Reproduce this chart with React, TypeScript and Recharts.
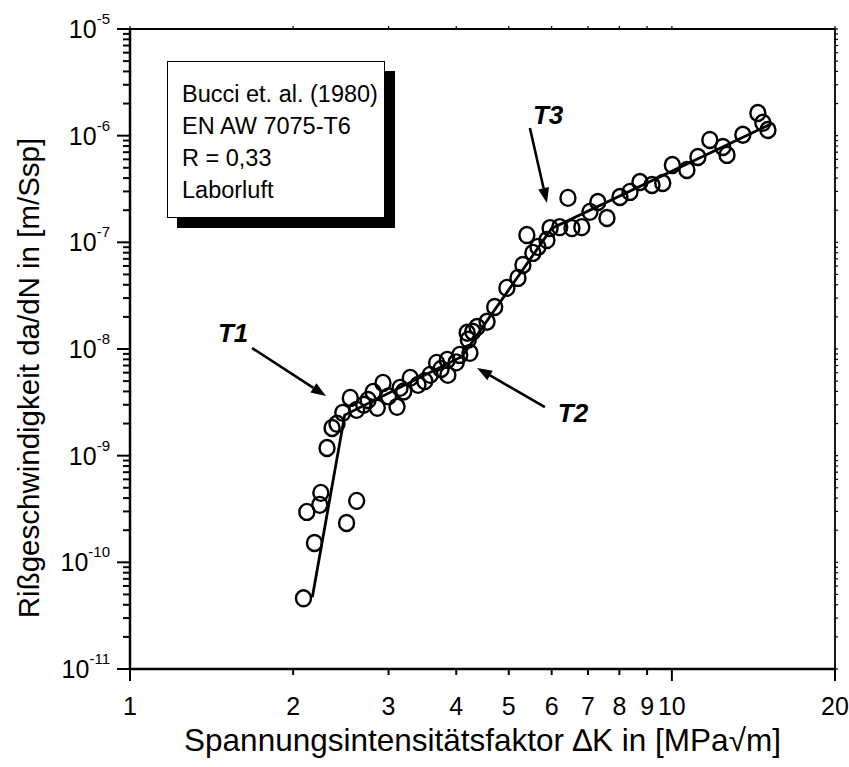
import React from 'react';
import { ScatterChart, Scatter, XAxis, YAxis, ReferenceLine, ReferenceDot } from 'recharts';

const FONT = '"Liberation Sans", Arial, Helvetica, sans-serif';

// measured points: ΔK [MPa√m] and da/dN [m/cycle]
const deltaK = [
  2.09, 2.19, 2.12, 2.24, 2.25, 2.62, 2.51, 2.31, 2.36, 2.41,
  2.47, 2.55, 2.62, 2.7, 2.75, 2.81, 2.93, 2.86, 3.0, 3.11,
  3.15, 3.2, 3.29, 3.4, 3.5, 3.58, 3.68, 3.75, 3.85, 3.86,
  4.0, 4.06, 4.24, 4.19, 4.21, 4.37, 4.56, 4.29, 4.71, 4.96,
  5.2, 5.31, 5.54, 5.66, 5.4, 5.88, 5.96, 6.21, 6.54, 6.82,
  6.43, 7.06, 7.3, 7.59, 8.02, 8.37, 8.73, 9.19, 9.62, 10.02,
  10.66, 11.17, 11.75, 12.42, 12.64, 13.52, 14.41, 14.72, 15.04,
];
const rate = [
  4.6e-11, 1.52e-10, 2.97e-10, 3.46e-10, 4.48e-10, 3.77e-10, 2.34e-10, 1.18e-9, 1.82e-9, 1.99e-9,
  2.52e-9, 3.48e-9, 2.69e-9, 3.0e-9, 3.33e-9, 3.96e-9, 4.81e-9, 2.81e-9, 3.6e-9, 2.87e-9,
  4.32e-9, 4.0e-9, 5.36e-9, 4.61e-9, 5.0e-9, 5.72e-9, 7.41e-9, 6.5e-9, 7.9e-9, 5.72e-9,
  7.5e-9, 8.8e-9, 9.2e-9, 1.42e-8, 1.22e-8, 1.61e-8, 1.8e-8, 1.45e-8, 2.48e-8, 3.74e-8,
  4.64e-8, 6.14e-8, 7.96e-8, 9.06e-8, 1.17e-7, 1.05e-7, 1.36e-7, 1.39e-7, 1.36e-7, 1.39e-7,
  2.61e-7, 1.93e-7, 2.39e-7, 1.69e-7, 2.66e-7, 2.97e-7, 3.68e-7, 3.45e-7, 3.6e-7, 5.31e-7,
  4.77e-7, 6.31e-7, 9.12e-7, 7.84e-7, 6.6e-7, 1.02e-6, 1.63e-6, 1.32e-6, 1.13e-6,
];

// fitted trend (piecewise)
const fitK = [2.17, 2.49, 4.1, 6.0, 15.3];
const fitRate = [4.7e-11, 2.4e-9, 8.5e-9, 1.35e-7, 1.3e-6];

const xTicks = [1, 2, 3, 4, 5, 6, 7, 8, 9, 10, 20];
const xTickLabels = ['1', '2', '3', '4', '5', '6', '7', '8', '9', '10', '20'];
const xLongTicks = [1, 10, 20];
const yExponents = [-11, -10, -9, -8, -7, -6, -5];
const yTickLabels = ['-11', '-10', '-9', '-8', '-7', '-6', '-5'];
const mantissas = [1, 2, 3, 4, 5, 6, 7, 8, 9];

const yTicks: number[] = [];
yExponents.forEach((e, i) => {
  mantissas.forEach((m) => {
    if (i === yExponents.length - 1 && m > 1) return;
    yTicks.push(m * Math.pow(10, e));
  });
});

const points = deltaK.map((k, i) => ({ k, v: rate[i] }));
const fit = fitK.map((k, i) => ({ k, v: fitRate[i] }));

const isMajor = (v: number) => {
  const l = Math.log10(v);
  return Math.abs(l - Math.round(l)) < 1e-6;
};

const YTick = (p: any) => {
  const { x, y, payload } = p;
  const major = isMajor(payload.value);
  const e = Math.round(Math.log10(payload.value));
  const idx = yExponents.indexOf(e);
  return (
    <g>
      <line x1={x} x2={x - (major ? 13 : 7)} y1={y} y2={y} stroke="#000" strokeWidth={2} />
      {major && (
        <text x={x - 20} y={y + 9} textAnchor="end" fontFamily={FONT} fontSize={25} fill="#000">
          10
          <tspan dy={-14} fontSize={15}>{yTickLabels[idx]}</tspan>
        </text>
      )}
    </g>
  );
};

const RightTick = (p: any) => {
  const { x, y } = p;
  return <line x1={x} x2={x + 3} y1={y} y2={y} stroke="#000" strokeWidth={1.2} />;
};

const TopTick = (p: any) => {
  const { x, y } = p;
  return <line x1={x} x2={x} y1={y} y2={y - 3} stroke="#000" strokeWidth={1.2} />;
};

const XTick = (p: any) => {
  const { x, y, payload } = p;
  const idx = xTicks.indexOf(payload.value);
  const long = xLongTicks.includes(payload.value);
  return (
    <g>
      <line x1={x} x2={x} y1={y} y2={y + (long ? 12 : 6)} stroke="#000" strokeWidth={2} />
      <text x={x} y={y + 46} textAnchor="middle" fontFamily={FONT} fontSize={25} fill="#000">
        {xTickLabels[idx]}
      </text>
    </g>
  );
};

const Ring = (p: any) => (
  <ellipse cx={p.cx} cy={p.cy} rx={7.5} ry={8} fill="none" stroke="#000" strokeWidth={2.4} />
);

const NoShape = () => <g />;

const Arrow = (p: any) => {
  const { x1, y1, x2, y2 } = p;
  const dx = x2 - x1;
  const dy = y2 - y1;
  const len = Math.sqrt(dx * dx + dy * dy) || 1;
  const ux = dx / len;
  const uy = dy / len;
  const hl = 15;
  const hw = 5.5;
  const bx = x2 - ux * hl;
  const by = y2 - uy * hl;
  return (
    <g>
      <line x1={x1} y1={y1} x2={bx} y2={by} stroke="#000" strokeWidth={2.6} />
      <polygon
        points={`${x2},${y2} ${bx - uy * hw},${by + ux * hw} ${bx + uy * hw},${by - ux * hw}`}
        fill="#000"
      />
    </g>
  );
};

const tLabel = (txt: string) => (p: any) => (
  <text
    x={p.cx}
    y={p.cy}
    textAnchor="middle"
    dominantBaseline="central"
    fontFamily={FONT}
    fontSize={26}
    fontWeight="bold"
    fontStyle="italic"
    fill="#000"
  >
    {txt}
  </text>
);

const xTitle = 'Spannungsintensitätsfaktor ∆K in [MPa√m]';
const yTitle = 'Rißgeschwindigkeit da/dN in [m/Ssp]';

const XTitle = (p: any) => {
  const vb = p.viewBox;
  return (
    <text x={vb.x + vb.width / 2} y={vb.y + 82} textAnchor="middle" fontFamily={FONT} fontSize={31.5} fill="#000">
      {xTitle}
    </text>
  );
};

const YTitle = (p: any) => {
  const vb = p.viewBox;
  const cx = 28;
  const cy = vb.y + vb.height / 2 + 29;
  return (
    <text
      x={cx}
      y={cy}
      transform={`rotate(-90 ${cx} ${cy})`}
      textAnchor="middle"
      dominantBaseline="central"
      fontFamily={FONT}
      fontSize={29.5}
      fill="#000"
    >
      {yTitle}
    </text>
  );
};

const legendLines = ['Bucci et. al. (1980)', 'EN AW 7075-T6', 'R = 0,33', 'Laborluft'];

export default function App() {
  return (
    <div style={{ position: 'absolute', left: 0, top: 0, width: 849, height: 767, background: '#fff' }}>
      <ScatterChart width={849} height={767} margin={{ top: 0, right: 0, bottom: 0, left: 0 }}>
        <XAxis
          xAxisId="b"
          dataKey="k"
          type="number"
          scale="log"
          domain={[1, 20]}
          allowDataOverflow
          ticks={xTicks}
          interval={0}
          tickSize={0}
          tickMargin={0}
          tickLine={false}
          tick={XTick}
          axisLine={{ stroke: '#000', strokeWidth: 2.5 }}
          height={98}
          orientation="bottom"
          label={XTitle}
        />
        <XAxis
          xAxisId="t"
          dataKey="k"
          type="number"
          scale="log"
          domain={[1, 20]}
          allowDataOverflow
          ticks={xTicks}
          interval={0}
          tickSize={0}
          tickMargin={0}
          tickLine={false}
          tick={TopTick}
          axisLine={{ stroke: '#000', strokeWidth: 1.8 }}
          height={29}
          orientation="top"
        />
        <YAxis
          yAxisId="l"
          dataKey="v"
          type="number"
          scale="log"
          domain={[1e-11, 1e-5]}
          allowDataOverflow
          ticks={yTicks}
          interval={0}
          tickSize={0}
          tickMargin={0}
          tickLine={false}
          tick={YTick}
          axisLine={{ stroke: '#000', strokeWidth: 2.5 }}
          width={130}
          orientation="left"
          label={YTitle}
        />
        <YAxis
          yAxisId="r"
          dataKey="v"
          type="number"
          scale="log"
          domain={[1e-11, 1e-5]}
          allowDataOverflow
          ticks={yTicks}
          interval={0}
          tickSize={0}
          tickMargin={0}
          tickLine={false}
          tick={RightTick}
          axisLine={{ stroke: '#000', strokeWidth: 1.8 }}
          width={14}
          orientation="right"
        />
        <Scatter
          xAxisId="b"
          yAxisId="l"
          data={fit}
          line={{ stroke: '#000', strokeWidth: 2.8 }}
          shape={NoShape}
          isAnimationActive={false}
        />
        <Scatter xAxisId="b" yAxisId="l" data={points} shape={Ring} isAnimationActive={false} />
        <ReferenceLine
          xAxisId="b"
          yAxisId="l"
          segment={[{ x: 1.68, y: 1.02e-8 }, { x: 2.3, y: 3.63e-9 }]}
          shape={Arrow}
        />
        <ReferenceLine
          xAxisId="b"
          yAxisId="l"
          segment={[{ x: 5.83, y: 2.85e-9 }, { x: 4.37, y: 6.65e-9 }]}
          shape={Arrow}
        />
        <ReferenceLine
          xAxisId="b"
          yAxisId="l"
          segment={[{ x: 5.47, y: 1.18e-6 }, { x: 5.88, y: 2.34e-7 }]}
          shape={Arrow}
        />
        <ReferenceDot xAxisId="b" yAxisId="l" x={1.55} y={1.42e-8} r={0} shape={tLabel('T1')} />
        <ReferenceDot xAxisId="b" yAxisId="l" x={6.57} y={2.52e-9} r={0} shape={tLabel('T2')} />
        <ReferenceDot xAxisId="b" yAxisId="l" x={5.91} y={1.56e-6} r={0} shape={tLabel('T3')} />
      </ScatterChart>
      <div
        style={{
          position: 'absolute',
          left: 167,
          top: 61,
          width: 218,
          height: 157,
          boxSizing: 'border-box',
          border: '1px solid #000',
          background: '#fff',
          boxShadow: '10px 10px 0 #000',
          fontFamily: FONT,
          fontSize: 23.5,
          lineHeight: '32px',
          paddingTop: 16,
          paddingLeft: 14,
          color: '#000',
          whiteSpace: 'nowrap',
        }}
      >
        {legendLines.map((l) => (
          <div key={l}>{l}</div>
        ))}
      </div>
    </div>
  );
}
